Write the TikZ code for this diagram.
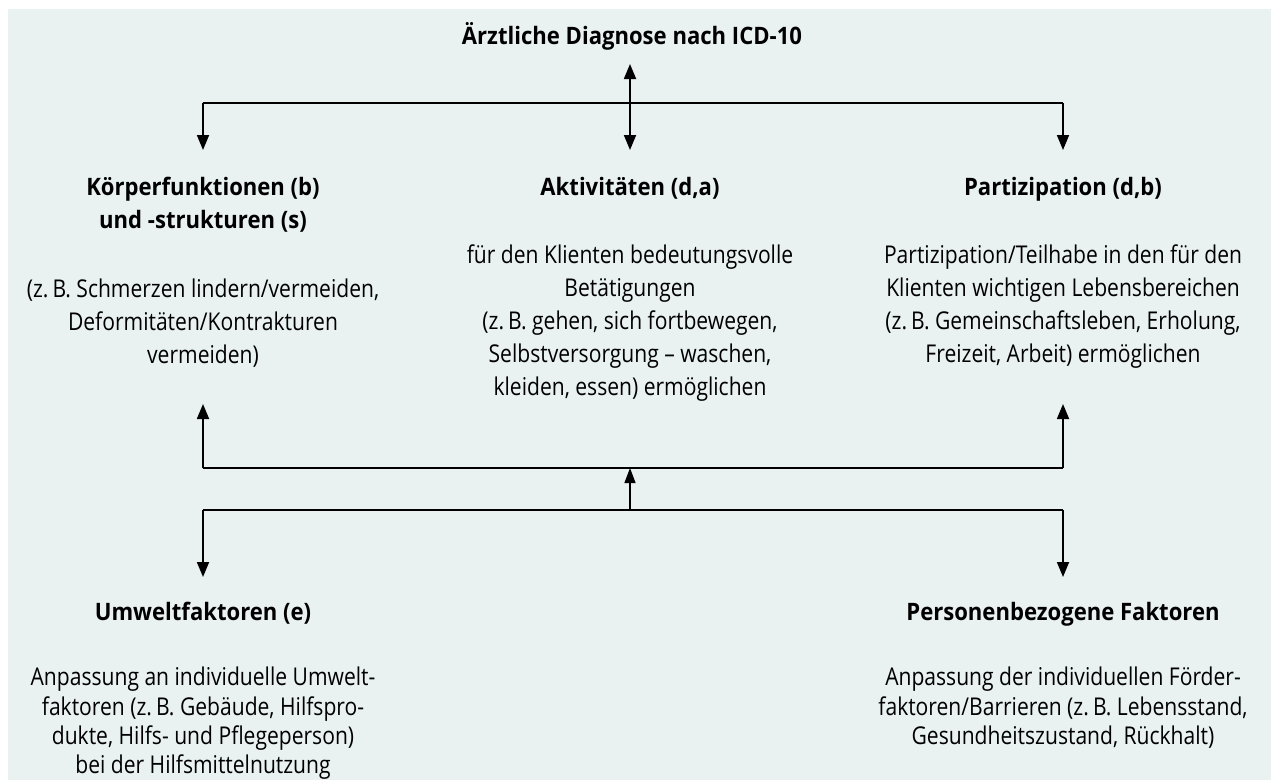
\documentclass[tikz,border=0pt]{standalone}
\usepackage{fontspec}
\setmainfont[FakeStretch=0.86]{Open Sans}
\newfontfamily\hdfont[FakeStretch=0.92]{Open Sans}
\usetikzlibrary{arrows.meta}
\definecolor{bgmint}{HTML}{E9F2F1}
\tikzset{
  arr/.style={line width=1.8pt,-{Triangle[length=15pt,width=12pt]}},
  dblarr/.style={line width=1.8pt,{Triangle[length=15pt,width=12pt]}-{Triangle[length=15pt,width=12pt]}},
  ln/.style={line width=1.8pt},
  head/.style={font=\hdfont\fontsize{24}{32.5}\selectfont\bfseries,align=center,inner sep=0pt,anchor=north},
  body/.style={font=\fontsize{24.5}{32.8}\selectfont,align=center,inner sep=0pt,anchor=north},
  bodyb/.style={font=\fontsize{24.5}{29.2}\selectfont,align=center,inner sep=0pt,anchor=north}
}
\begin{document}
\begin{tikzpicture}[x=1pt,y=-1pt]
\useasboundingbox (0,0) rectangle (1271,780);
\fill[bgmint] (8,9) rectangle (1271,780);

\node[head] (title) at (632,22) {Ärztliche Diagnose nach ICD-10};

\node[head] (kf) at (203,177) {Körperfunktionen (b)\\und -strukturen (s)};
\node[head] (akt) at (630,177) {Aktivitäten (d,a)};
\node[head] (par) at (1063,177) {Partizipation (d,b)};

\node[body] (kfb) at (203,279) {(z.\,B. Schmerzen lindern/vermeiden,\\Deformitäten/Kontrakturen\\vermeiden)};
\node[body] (aktb) at (630,245) {für den Klienten bedeutungsvolle\\Betätigungen\\(z.\,B. gehen, sich fortbewegen,\\Selbstversorgung – waschen,\\kleiden, essen) ermöglichen};
\node[body] (parb) at (1063,245) {Partizipation/Teilhabe in den für den\\Klienten wichtigen Lebensbereichen\\(z.\,B. Gemeinschaftsleben, Erholung,\\Freizeit, Arbeit) ermöglichen};

\node[head] (um) at (203,602) {Umweltfaktoren (e)};
\node[head] (pf) at (1063,602) {Personenbezogene Faktoren};
\node[bodyb] (umb) at (203,667) {Anpassung an individuelle Umwelt-\\faktoren (z.\,B. Gebäude, Hilfspro-\\dukte, Hilfs- und Pflegeperson)\\bei der Hilfsmittelnutzung};
\node[bodyb] (pfb) at (1063,667) {Anpassung der individuellen Förder-\\faktoren/Barrieren (z.\,B. Lebensstand,\\Gesundheitszustand, Rückhalt)};

% top connectors
\coordinate (tl) at (203,103);
\coordinate (tr) at (1063,103);
\coordinate (tt) at (630,64);
\coordinate (tb) at (630,150);
\draw[ln] (tl) -- (tr);
\draw[dblarr] (tt) -- (tb);
\draw[arr] (tl) -- (203,150) coordinate (kfin);
\draw[arr] (tr) -- (1063,150) coordinate (parin);

% middle connectors
\coordinate (ml) at (203,468);
\coordinate (mr) at (1063,468);
\coordinate (mm) at (630,468);
\coordinate (ll) at (203,510);
\coordinate (lr) at (1063,510);
\coordinate (lm) at (630,510);
\draw[ln] (ml) -- (mr);
\draw[arr] (ml) -- (203,404) coordinate (kfup);
\draw[arr] (mr) -- (1063,404) coordinate (parup);
\draw[line width=1.2pt,-{Triangle[length=15pt,width=11pt]}] (lm) -- (mm);
\draw[ln] (ll) -- (lr);
\draw[arr] (ll) -- (203,577) coordinate (umin);
\draw[arr] (lr) -- (1063,577) coordinate (pfin);
\end{tikzpicture}
\end{document}
